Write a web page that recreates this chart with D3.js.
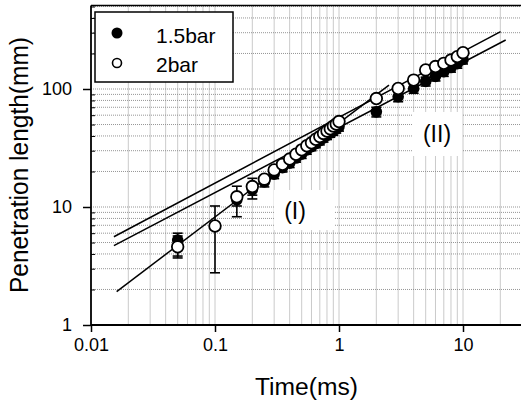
<!DOCTYPE html>
<html>
<head>
<meta charset="utf-8">
<script src="https://cdn.jsdelivr.net/npm/d3@7"></script>
<style>
  body { margin: 0; background: #fff; }
  text { font-family: "Liberation Sans", Arial, sans-serif; fill: #000; }
  .grid line { stroke: #8a8a8a; stroke-width: 0.9; stroke-dasharray: 1,1; }
  .axis path, .axis line { stroke: #000; }
</style>
</head>
<body>
<svg id="chart" width="521" height="403"></svg>
<script>
// time (ms) and penetration length (mm)
const times15 = [0.05, 0.15, 0.2, 0.25, 0.3, 0.35, 0.4, 0.45, 0.5, 0.55, 0.6, 0.65, 0.7, 0.75, 0.8, 0.85, 0.9, 0.95, 1.0, 2, 3, 4, 5, 6, 7, 8, 9, 10];
const len15 = [5.25, 11.5, 14, 16.3, 19, 21.5, 23.5, 26, 28, 30.5, 32.5, 34.5, 36.5, 38.5, 40.5, 42.5, 44, 46, 48, 64, 86, 101, 116, 128, 140, 152, 164, 178];
const errLo15 = [3.84, 10.2, 12.6, 14.8, 17.4, 19.8, 21.6, 24, 25.8, 28, 30, 31.8, 33.6, 35.5, 37.3, 39, 40.5, 42.3, 44, 58, 78, 92, 106, 117, 128, 139, 150, 163];
const errHi15 = [6.0, 12.8, 15.4, 17.8, 20.6, 23.2, 25.4, 28, 30.2, 33, 35, 37.2, 39.4, 41.5, 43.7, 46, 47.5, 49.7, 52, 70, 94, 110, 126, 139, 152, 165, 178, 193];

const times2 = [0.05, 0.1, 0.15, 0.2, 0.25, 0.3, 0.35, 0.4, 0.45, 0.5, 0.55, 0.6, 0.65, 0.7, 0.75, 0.8, 0.85, 0.9, 0.95, 1.0, 2, 3, 4, 5, 6, 7, 8, 9, 10];
const len2 = [4.6, 6.9, 12.2, 14.9, 17.2, 20.6, 23, 25.5, 28, 30.5, 33, 35, 37.5, 39.5, 42, 44, 46, 48.5, 50.5, 53, 83, 101, 119, 145, 155, 165, 176, 188, 203];
const errTimes2 = [0.05, 0.1, 0.15, 0.2];
const errLo2 = [3.7, 2.77, 8.27, 11.7];
const errHi2 = [5.68, 10.2, 15.0, 17.5];

// fitted power-law lines: [start, end] as [time, length]
const fitUpper = [[0.0153, 5.6], [20.1, 306]];
const fitMiddle = [[0.0153, 4.7], [22.1, 260]];
const fitRegionI = [[0.0161, 1.92], [2.53, 108]];

const xTicks = [0.01, 0.1, 1, 10];
const yTicks = [1, 10, 100];
const xTickLabels = ["0.01", "0.1", "1", "10"];
const yTickLabels = ["1", "10", "100"];

const drawChart = ()=>{
    let svg = d3.select("#chart");

    let left = 91, top = 5.5, bottom = 325;
    let xScale = d3.scaleLog().domain([0.01, 32]).range([left, left + 124 * Math.log10(3200)]);
    let yScale = d3.scaleLog().domain([1, 510]).range([bottom, bottom - 118 * Math.log10(510)]);
    let right = xScale.range()[1];

    // minor + major grid
    let xGrid = [], yGrid = [];
    [0.01, 0.1, 1, 10].forEach((d)=>{
        for (let k = 1; k <= 9; k++) {
            if (d * k > 0.01 && d * k < 32) xGrid.push(d * k);
        }
    });
    [1, 10, 100].forEach((d)=>{
        for (let k = 1; k <= 9; k++) {
            if (d * k > 1 && d * k < 510) yGrid.push(d * k);
        }
    });

    let grid = svg.append("g").attr("class", "grid");
    grid.selectAll(".gx").data(xGrid).enter().append("line")
        .attr("x1", (d)=>xScale(d)).attr("x2", (d)=>xScale(d))
        .attr("y1", top).attr("y2", bottom);
    grid.selectAll(".gy").data(yGrid).enter().append("line")
        .attr("x1", left).attr("x2", right)
        .attr("y1", (d)=>yScale(d)).attr("y2", (d)=>yScale(d));

    // white patches behind the region labels
    svg.append("rect").attr("x", 274).attr("y", 190).attr("width", 60).attr("height", 40).attr("fill", "#fff");
    svg.append("rect").attr("x", 413).attr("y", 112).attr("width", 49).attr("height", 44).attr("fill", "#fff");

    // fit lines
    let line = d3.line()
        .x((d)=>xScale(d[0]))
        .y((d)=>yScale(d[1]));
    [fitUpper, fitMiddle, fitRegionI].forEach((seg)=>{
        svg.append("path")
            .datum(seg)
            .attr("d", line)
            .attr("fill", "none")
            .attr("stroke", "#000")
            .attr("stroke-width", 1.5);
    });

    // error bars
    const drawErr = (ts, lo, hi)=>{
        let g = svg.append("g").attr("stroke", "#000").attr("stroke-width", 1.6);
        ts.forEach((t, i)=>{
            let x = xScale(t);
            g.append("line").attr("x1", x).attr("x2", x).attr("y1", yScale(lo[i])).attr("y2", yScale(hi[i]));
            g.append("line").attr("x1", x - 5).attr("x2", x + 5).attr("y1", yScale(lo[i])).attr("y2", yScale(lo[i]));
            g.append("line").attr("x1", x - 5).attr("x2", x + 5).attr("y1", yScale(hi[i])).attr("y2", yScale(hi[i]));
        });
    };
    drawErr(times15, errLo15, errHi15);
    drawErr(errTimes2, errLo2, errHi2);

    // 1.5 bar: filled
    svg.append("g").selectAll("circle")
        .data(times15.map((t, i)=>[t, len15[i]]))
        .enter().append("circle")
        .attr("cx", (d)=>xScale(d[0]))
        .attr("cy", (d)=>yScale(d[1]))
        .attr("r", 5.8)
        .attr("fill", "#000");

    // 2 bar: open
    svg.append("g").selectAll("circle")
        .data(times2.map((t, i)=>[t, len2[i]]))
        .enter().append("circle")
        .attr("cx", (d)=>xScale(d[0]))
        .attr("cy", (d)=>yScale(d[1]))
        .attr("r", 5.8)
        .attr("fill", "#fff")
        .attr("stroke", "#000")
        .attr("stroke-width", 1.8);

    // frame
    svg.append("line").attr("x1", left).attr("x2", right).attr("y1", top).attr("y2", top)
        .attr("stroke", "#000").attr("stroke-width", 1.5);

    // minor ticks inside the left axis
    let yMinor = d3.axisLeft(yScale).tickValues(yGrid.filter((d)=>yTicks.indexOf(d) < 0)).tickSize(-4).tickFormat("");
    svg.append("g").attr("class", "axis").attr("transform", "translate(" + left + ",0)").call(yMinor)
        .select(".domain").remove();

    let xAxis = d3.axisBottom(xScale).tickValues(xTicks).tickSize(7).tickPadding(6)
        .tickFormat((d, i)=>xTickLabels[i]);
    let yAxis = d3.axisLeft(yScale).tickValues(yTicks).tickSize(8).tickPadding(11)
        .tickFormat((d, i)=>yTickLabels[i]);

    let gx = svg.append("g").attr("class", "axis")
        .attr("transform", "translate(0," + bottom + ")")
        .call(xAxis);
    gx.select(".domain").attr("stroke-width", 2).attr("d", "M" + left + ",0H" + right);
    gx.selectAll("line").attr("stroke-width", 1.5);
    gx.selectAll("text").attr("font-size", "18px").attr("font-family", "Liberation Sans, Arial, sans-serif");

    let gy = svg.append("g").attr("class", "axis")
        .attr("transform", "translate(" + left + ",0)")
        .call(yAxis);
    gy.select(".domain").attr("stroke-width", 1.8).attr("d", "M0," + bottom + "V" + top);
    gy.selectAll("line").attr("stroke-width", 1.5);
    gy.selectAll("text").attr("font-size", "18px").attr("font-family", "Liberation Sans, Arial, sans-serif");

    // axis titles
    svg.append("text")
        .attr("x", 306.5).attr("y", 395)
        .attr("text-anchor", "middle")
        .attr("font-size", "23px")
        .attr("textLength", 103).attr("lengthAdjust", "spacingAndGlyphs")
        .text("Time(ms)");
    svg.append("text")
        .attr("transform", "translate(28,165) rotate(-90)")
        .attr("text-anchor", "middle")
        .attr("font-size", "25px")
        .attr("textLength", 256).attr("lengthAdjust", "spacingAndGlyphs")
        .text("Penetration length(mm)");

    // region labels
    svg.append("text").attr("x", 295).attr("y", 219).attr("text-anchor", "middle")
        .attr("font-size", "23px").text("(I)");
    svg.append("text").attr("x", 437).attr("y", 142).attr("text-anchor", "middle")
        .attr("font-size", "23px").text("(II)");

    // legend
    let lg = svg.append("g");
    lg.append("rect").attr("x", 95).attr("y", 12).attr("width", 138).attr("height", 70)
        .attr("fill", "#fff").attr("stroke", "#000").attr("stroke-width", 1.5);
    lg.append("circle").attr("cx", 117).attr("cy", 33).attr("r", 5.5).attr("fill", "#000");
    lg.append("circle").attr("cx", 117).attr("cy", 63).attr("r", 4.5)
        .attr("fill", "#fff").attr("stroke", "#000").attr("stroke-width", 1.6);
    lg.append("text").attr("x", 156).attr("y", 42.5).attr("font-size", "21px").text("1.5bar");
    lg.append("text").attr("x", 156).attr("y", 71.5).attr("font-size", "21px").text("2bar");
}

window.onload = function(){
    drawChart();
}
</script>
</body>
</html>
